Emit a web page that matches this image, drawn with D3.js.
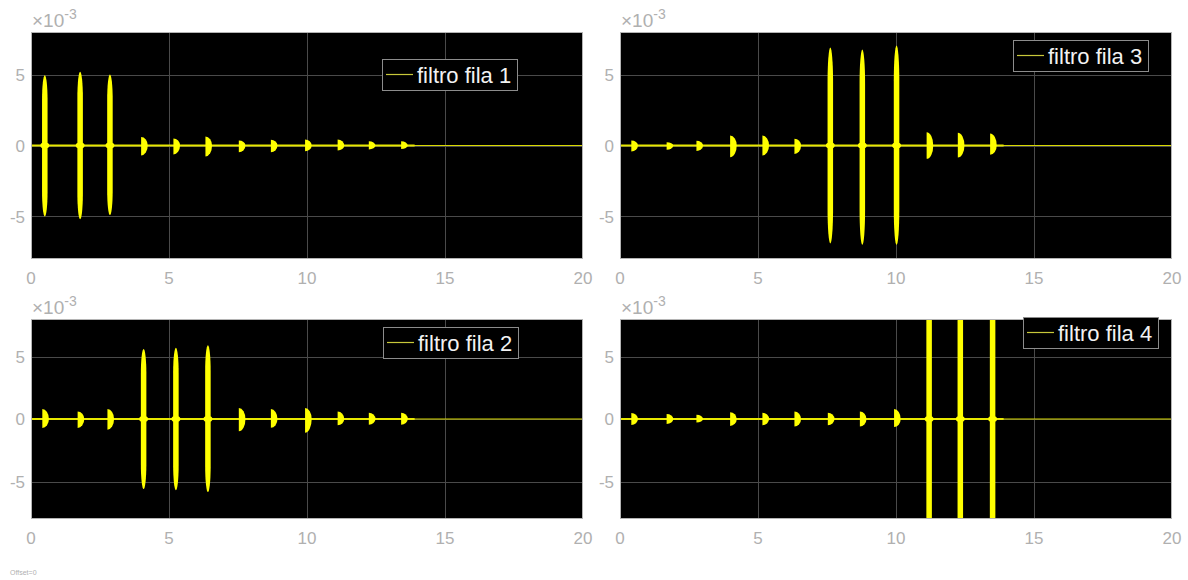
<!DOCTYPE html>
<html>
<head>
<meta charset="utf-8">
<script src="https://cdn.jsdelivr.net/npm/d3@7"></script>
<style>
  body { margin: 0; background: #fff; }
  text { font-family: "Liberation Sans", Arial, sans-serif; }
</style>
</head>
<body>
<svg id="chart" width="1188" height="580"></svg>
<script>
// tiempos de cada pulsacion (s)
var burstTimes = [0.5, 1.78, 2.86, 4.08, 5.25, 6.41, 7.62, 8.78, 10.02, 11.2, 12.33, 13.5];
// amplitudes (x10^-3), envolvente superior e inferior
var fila1Up   = [4.95, 5.2, 5.0, 0.6, 0.5, 0.63, 0.35, 0.4, 0.42, 0.42, 0.3, 0.3];
var fila1Down = [-5.0, -5.2, -4.9, -0.7, -0.63, -0.77, -0.47, -0.47, -0.4, -0.35, -0.28, -0.25];
var fila2Up   = [0.8, 0.6, 0.8, 5.6, 5.7, 5.9, 0.88, 0.8, 0.88, 0.6, 0.5, 0.5];
var fila2Down = [-0.72, -0.72, -0.85, -5.6, -5.7, -5.85, -0.98, -0.7, -1.1, -0.5, -0.45, -0.45];
var fila3Up   = [0.35, 0.23, 0.33, 0.7, 0.7, 0.47, 6.9, 6.76, 7.04, 0.94, 0.9, 0.85];
var fila3Down = [-0.43, -0.3, -0.38, -0.82, -0.7, -0.6, -6.9, -7.0, -7.0, -0.94, -0.85, -0.66];
var fila4Up   = [0.48, 0.4, 0.35, 0.55, 0.5, 0.6, 0.5, 0.6, 0.8, 12, 12, 12];
var fila4Down = [-0.48, -0.4, -0.27, -0.55, -0.5, -0.6, -0.5, -0.6, -0.64, -12, -12, -12];
var signalEnd = 13.9;

var xTicks = [0, 5, 10, 15, 20];
var yTicks = [-5, 0, 5];

var svg = d3.select("#chart");

var panels = [
  { id: "p1", left: 31, top: 32, w: 552, h: 227, up: fila1Up, down: fila1Down, label: "filtro fila 1", lx: 382, ly: 59 },
  { id: "p3", left: 620, top: 32, w: 552, h: 227, up: fila3Up, down: fila3Down, label: "filtro fila 3", lx: 1013, ly: 40 },
  { id: "p2", left: 31, top: 319, w: 552, h: 200, up: fila2Up, down: fila2Down, label: "filtro fila 2", lx: 383, ly: 327 },
  { id: "p4", left: 620, top: 319, w: 552, h: 200, up: fila4Up, down: fila4Down, label: "filtro fila 4", lx: 1023, ly: 317 }
];

panels.forEach(drawPanel);

function drawPanel(p) {
  var x = d3.scaleLinear().domain([0, 20]).range([0, p.w]);
  var y = d3.scaleLinear().domain([-8, 8]).range([p.h, 0]);

  var g = svg.append("g").attr("transform", "translate(" + p.left + "," + p.top + ")");

  g.append("rect")
    .attr("width", p.w).attr("height", p.h)
    .attr("fill", "#000");

  svg.append("clipPath").attr("id", "clip-" + p.id)
    .append("rect").attr("width", p.w).attr("height", p.h);

  // grilla
  g.selectAll(".gx").data(xTicks.slice(1, -1)).enter().append("line")
    .attr("x1", function (d) { return x(d) + 0.5; })
    .attr("x2", function (d) { return x(d) + 0.5; })
    .attr("y1", 0).attr("y2", p.h)
    .attr("stroke", "#4a4a4a").attr("stroke-width", 1);
  g.selectAll(".gy").data(yTicks).enter().append("line")
    .attr("x1", 0).attr("x2", p.w)
    .attr("y1", function (d) { return Math.round(y(d)) + 0.5; })
    .attr("y2", function (d) { return Math.round(y(d)) + 0.5; })
    .attr("stroke", "#4a4a4a").attr("stroke-width", 1);

  var plot = g.append("g").attr("clip-path", "url(#clip-" + p.id + ")");

  // linea base
  plot.append("line")
    .attr("x1", x(0)).attr("x2", x(20))
    .attr("y1", y(0)).attr("y2", y(0))
    .attr("stroke", "#d8d800").attr("stroke-width", 1.2);
  plot.append("line")
    .attr("x1", x(0)).attr("x2", x(signalEnd))
    .attr("y1", y(0)).attr("y2", y(0))
    .attr("stroke", "#e8e800").attr("stroke-width", 2);

  var bursts = burstTimes.map(function (t, i) {
    return { t: t, up: p.up[i], down: p.down[i] };
  });

  plot.selectAll(".burst").data(bursts).enter().append("path")
    .attr("fill", "#ffff00")
    .attr("d", function (d) {
      var y0 = y(0), yT = y(d.up), yB = y(d.down);
      var r1 = y0 - yT, r2 = yB - y0;
      if (d.up > 2) {
        // pulso grande: barra con puntas redondeadas
        var cx = x(d.t), rx = x(0.1) - x(0);
        var c1 = r1 * 0.35, c2 = r2 * 0.35;
        return "M" + (cx - rx) + "," + (yT + c1) +
          "A" + rx + "," + c1 + " 0 0 1 " + (cx + rx) + "," + (yT + c1) +
          "L" + (cx + rx) + "," + (yB - c2) +
          "A" + rx + "," + c2 + " 0 0 1 " + (cx - rx) + "," + (yB - c2) + "Z";
      }
      // pulso chico: ataque rapido y decaimiento
      var x0 = x(d.t - 0.09), w = x(0.24) - x(0);
      return "M" + x0 + "," + yT +
        "A" + w + "," + r1 + " 0 0 1 " + (x0 + w) + "," + y0 +
        "A" + w + "," + r2 + " 0 0 1 " + x0 + "," + yB + "Z";
    });

  // nucleo en cero de los pulsos grandes
  plot.selectAll(".core").data(bursts.filter(function (d) { return d.up > 2; }))
    .enter().append("ellipse")
    .attr("cx", function (d) { return x(d.t); })
    .attr("cy", y(0))
    .attr("rx", 4.5).attr("ry", 3)
    .attr("fill", "#ffff00");

  // borde
  g.append("rect")
    .attr("x", 0.5).attr("y", 0.5)
    .attr("width", p.w - 1).attr("height", p.h - 1)
    .attr("fill", "none").attr("stroke", "#b4b4b4").attr("stroke-width", 1);

  // etiquetas de ejes
  g.selectAll(".tx").data(xTicks).enter().append("text")
    .attr("x", function (d) { return x(d); })
    .attr("y", p.h + 25)
    .attr("text-anchor", "middle")
    .attr("fill", "#b0b0b0")
    .style("font-size", "17px")
    .text(function (d) { return d; });
  g.selectAll(".ty").data(yTicks).enter().append("text")
    .attr("x", -6)
    .attr("y", function (d) { return y(d); })
    .attr("dy", "0.36em")
    .attr("text-anchor", "end")
    .attr("fill", "#b0b0b0")
    .style("font-size", "17px")
    .text(function (d) { return d; });

  var exp = g.append("text")
    .attr("x", 1).attr("y", -5)
    .attr("fill", "#b0b0b0")
    .style("font-size", "19px");
  exp.append("tspan").text("\u00d710");
  exp.append("tspan").attr("dy", -8).style("font-size", "14px").text("-3");

  // leyenda
  var leg = svg.append("g").attr("transform", "translate(" + p.lx + "," + p.ly + ")");
  leg.append("rect")
    .attr("x", 0.5).attr("y", 0.5)
    .attr("width", 135).attr("height", 31)
    .attr("fill", "#000").attr("stroke", "#8c8c8c").attr("stroke-width", 1);
  leg.append("line")
    .attr("x1", 4).attr("x2", 31)
    .attr("y1", 15.5).attr("y2", 15.5)
    .attr("stroke", "#c8c83a").attr("stroke-width", 1.2);
  leg.append("text")
    .attr("x", 35).attr("y", 24)
    .attr("fill", "#f2f2f2")
    .style("font-size", "22px")
    .text(p.label);
}

svg.append("text")
  .attr("x", 10).attr("y", 575)
  .attr("fill", "#b0b0b0")
  .style("font-size", "7px")
  .text("Offset=0");
</script>
</body>
</html>
